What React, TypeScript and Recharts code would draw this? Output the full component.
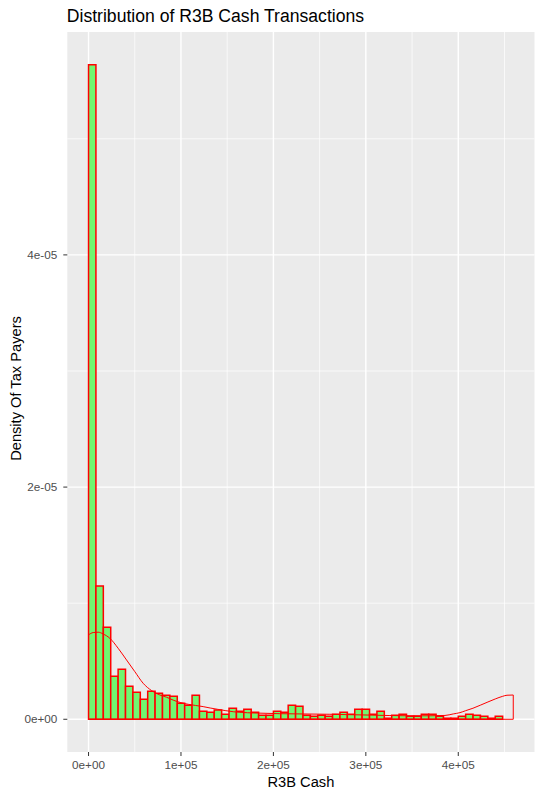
import React from 'react';
import {
  ComposedChart,
  XAxis,
  YAxis,
  CartesianGrid,
  Line,
  ReferenceArea,
  ReferenceLine,
  Label,
} from 'recharts';

// ---- data ----
const title = 'Distribution of R3B Cash Transactions';
const xTitle = 'R3B Cash';
const yTitle = 'Density Of Tax Payers';

const binOrigin = 0;
const binWidth = 8000;
const histDensity = [
  5.638e-5, 1.149e-5, 0.793e-5, 0.371e-5, 0.431e-5, 0.284e-5, 0.233e-5, 0.172e-5,
  0.241e-5, 0.224e-5, 0.207e-5, 0.198e-5, 0.138e-5, 0.121e-5, 0.207e-5, 0.069e-5,
  0.060e-5, 0.080e-5, 0.043e-5, 0.095e-5, 0.069e-5, 0.086e-5, 0.060e-5, 0.034e-5,
  0.034e-5, 0.069e-5, 0.060e-5, 0.121e-5, 0.112e-5, 0.034e-5, 0.026e-5, 0.034e-5,
  0.026e-5, 0.043e-5, 0.060e-5, 0.043e-5, 0.086e-5, 0.086e-5, 0.043e-5, 0.069e-5,
  0.009e-5, 0.034e-5, 0.043e-5, 0.026e-5, 0.026e-5, 0.043e-5, 0.043e-5, 0.026e-5,
  0.009e-5, 0.009e-5, 0.026e-5, 0.043e-5, 0.034e-5, 0.026e-5, 0.009e-5, 0.026e-5,
  0, 0,
];

const densityX = [
  0, 5000, 10400, 15800, 23000, 32000, 41100, 50100, 59100, 68200, 77200, 84400,
  91600, 99900, 107800, 115800, 124000, 131600, 139600, 147800, 156500, 163700,
  180000, 207000, 228700, 261100, 304400, 347700, 369400, 385600, 394600, 401800,
  408000, 415900, 423800, 432100, 440000, 448100, 452700, 459500,
];
const densityY = [
  0.727e-5, 0.747e-5, 0.750e-5, 0.735e-5, 0.698e-5, 0.612e-5, 0.511e-5, 0.410e-5,
  0.310e-5, 0.247e-5, 0.209e-5, 0.190e-5, 0.165e-5, 0.143e-5, 0.129e-5, 0.119e-5,
  0.109e-5, 0.097e-5, 0.086e-5, 0.075e-5, 0.065e-5, 0.060e-5, 0.054e-5, 0.048e-5,
  0.046e-5, 0.043e-5, 0.036e-5, 0.030e-5, 0.030e-5, 0.033e-5, 0.046e-5, 0.057e-5,
  0.074e-5, 0.095e-5, 0.121e-5, 0.149e-5, 0.175e-5, 0.198e-5, 0.207e-5, 0.209e-5,
];

const xTicks = [0, 100000, 200000, 300000, 400000];
const xTickLabels = ['0e+00', '1e+05', '2e+05', '3e+05', '4e+05'];
const xMinorTicks = [50000, 150000, 250000, 350000, 450000];
const yTicks = [0, 2e-5, 4e-5];
const yTickLabels = ['0e+00', '2e-05', '4e-05'];
const yMinorTicks = [1e-5, 3e-5, 5e-5];

// ---- derived ----
const bins = histDensity.map((d, i) => ({
  x0: binOrigin + i * binWidth,
  x1: binOrigin + (i + 1) * binWidth,
  d,
}));
const densityData = densityX.map((x, i) => ({ x, d: densityY[i] }));
const xMin = densityX[0];
const xMax = densityX[densityX.length - 1];
const yMax = Math.max(...histDensity);
const xDomain = [xMin - 0.05 * (xMax - xMin), xMax + 0.05 * (xMax - xMin)];
const yDomain = [-0.05 * yMax, 1.05 * yMax];

const FONT = '"Liberation Sans", Arial, Helvetica, sans-serif';
const BAR_FILL = '#70F770';
const RED = '#FF0000';

const XTitleLabel = (props: any) => {
  const vb = props.viewBox || { x: 0, y: 0, width: 0, height: 0 };
  return (
    <text
      x={vb.x + vb.width / 2}
      y={vb.y + 34.7}
      textAnchor="middle"
      fontFamily={FONT}
      fontSize={14.67}
      fill="#000000"
    >
      {xTitle}
    </text>
  );
};

const YTitleLabel = (props: any) => {
  const vb = props.viewBox || { x: 0, y: 0, width: 0, height: 0 };
  const cx = vb.x + 20.5;
  const cy = vb.y + vb.height / 2 - 3.5;
  return (
    <text
      x={cx}
      y={cy}
      transform={`rotate(-90, ${cx}, ${cy})`}
      textAnchor="middle"
      fontFamily={FONT}
      fontSize={14.67}
      fill="#000000"
    >
      {yTitle}
    </text>
  );
};

export default function App() {
  return (
    <div style={{ position: 'absolute', left: 0, top: 0, width: 542, height: 797, background: '#FFFFFF' }}>
      <ComposedChart
        width={542}
        height={797}
        data={densityData}
        margin={{ top: 32, right: 7.5, bottom: 0, left: 0 }}
      >
        <CartesianGrid
          fill="#EBEBEB"
          stroke="#FFFFFF"
          strokeWidth={1.4}
          horizontalValues={yTicks}
          verticalValues={xTicks}
        />
        <CartesianGrid
          stroke="#FFFFFF"
          strokeWidth={0.7}
          horizontalValues={yMinorTicks}
          verticalValues={xMinorTicks}
        />
        <XAxis
          type="number"
          dataKey="x"
          domain={xDomain}
          allowDataOverflow
          ticks={xTicks}
          interval={0}
          tickFormatter={(v: number) => xTickLabels[xTicks.indexOf(v)]}
          axisLine={false}
          tickLine={{ stroke: '#333333', strokeWidth: 1 }}
          tickSize={4}
          tickMargin={5}
          height={45}
          tick={{ fill: '#4D4D4D', fontSize: 11.73, fontFamily: FONT }}
        >
          <Label content={XTitleLabel} />
        </XAxis>
        <YAxis
          type="number"
          domain={yDomain}
          allowDataOverflow
          ticks={yTicks}
          interval={0}
          tickFormatter={(v: number) => yTickLabels[yTicks.indexOf(v)]}
          axisLine={false}
          tickLine={{ stroke: '#333333', strokeWidth: 1 }}
          tickSize={4}
          tickMargin={6}
          width={67.3}
          tick={{ fill: '#4D4D4D', fontSize: 11.73, fontFamily: FONT }}
        >
          <Label content={YTitleLabel} />
        </YAxis>
        {bins.map((b, i) => (
          <ReferenceArea
            key={`bin-${i}`}
            x1={b.x0}
            x2={b.x1}
            y1={0}
            y2={b.d}
            fill={BAR_FILL}
            fillOpacity={1}
            stroke={RED}
            strokeOpacity={1}
            strokeWidth={1.5}
            ifOverflow="visible"
          />
        ))}
        <Line
          type="monotone"
          dataKey="d"
          stroke={RED}
          strokeWidth={1}
          dot={false}
          activeDot={false}
          isAnimationActive={false}
        />
        <ReferenceLine
          segment={[{ x: xMin, y: 0 }, { x: xMax, y: 0 }]}
          stroke={RED}
          strokeWidth={1}
        />
        <ReferenceLine
          segment={[{ x: xMax, y: 0 }, { x: xMax, y: densityY[densityY.length - 1] }]}
          stroke={RED}
          strokeWidth={1}
        />
        <ReferenceLine
          segment={[{ x: xMin, y: 0 }, { x: xMin, y: densityY[0] }]}
          stroke={RED}
          strokeWidth={1}
        />
      </ComposedChart>
      <svg
        width={542}
        height={30}
        style={{ position: 'absolute', left: 0, top: 0, pointerEvents: 'none' }}
      >
        <text x={66.8} y={22} fontFamily={FONT} fontSize={17.6} fill="#000000">
          {title}
        </text>
      </svg>
    </div>
  );
}
